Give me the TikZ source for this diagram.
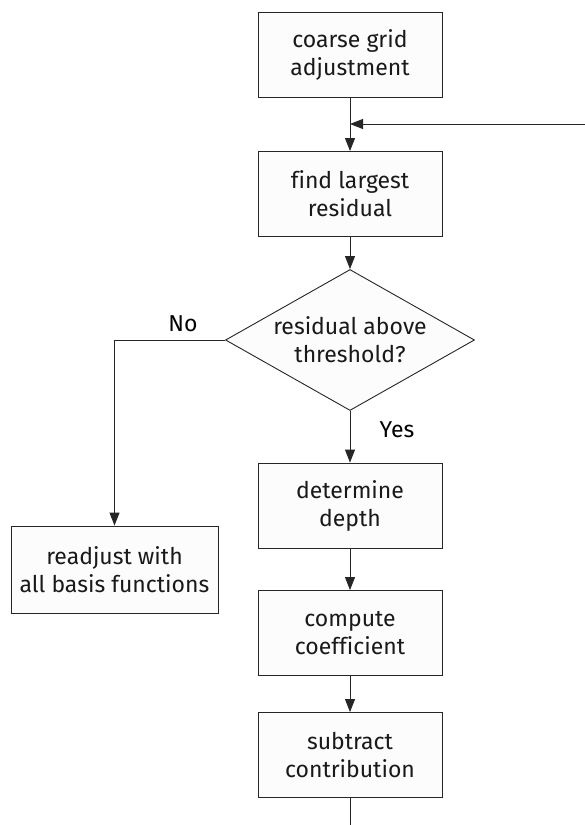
\documentclass[tikz,border=0pt]{standalone}
\usepackage{fontspec}
\setmainfont[Ligatures=NoCommon]{Fira Sans}
\usetikzlibrary{shapes.geometric,arrows.meta}
\begin{document}
\begin{tikzpicture}[x=1pt, y=-1pt,
    font=\fontsize{23}{28}\selectfont,
    stepbox/.style={draw=black!85, fill=black!1, line width=0.9pt, minimum width=184pt, minimum height=85pt, align=center, text=black!90},
    decision/.style={diamond, draw=black!85, fill=black!1, line width=0.9pt, minimum width=249pt, minimum height=141pt, aspect=1.77, inner sep=0pt, align=center, text=black!90},
    flow/.style={draw=black!85, line width=0.9pt, -{Triangle[length=13pt,width=10pt]}}]
    \useasboundingbox (0,0) rectangle (585,825);
    % main column
    \node[stepbox] (coarse)   at (350, 54.5)  {coarse grid\\adjustment};
    \node[stepbox] (largest)  at (350, 194)   {find largest\\residual};
    \node[decision] (test)    at (350, 340)   {residual above\\threshold?};
    \node[stepbox] (depth)    at (350, 505.5) {determine\\depth};
    \node[stepbox] (coeff)    at (350, 633)   {compute\\coefficient};
    \node[stepbox] (subtract) at (350, 755)   {subtract\\contribution};
    % side branch
    \node[stepbox, minimum width=207pt, minimum height=87pt] (readjust) at (114.5, 569.5) {readjust with\\all basis functions};
    \coordinate (loopin) at (585, 124);
    \coordinate (join)   at (350, 124);
    \coordinate (bottom) at (350, 825);
    \draw[flow] (coarse) -- (largest);
    \draw[flow] (loopin) -- (join);
    \draw[flow] (largest) -- (test);
    \draw[flow] (test) -- (depth);
    \draw[flow] (test.west) -| (readjust);
    \draw[flow] (depth) -- (coeff);
    \draw[flow] (coeff) -- (subtract);
    \draw[draw=black!85, line width=0.9pt] (subtract) -- (bottom);
    % branch labels
    \node (no)  at (183, 324) {No};
    \node (yes) at (397, 430) {Yes};
\end{tikzpicture}
\end{document}
